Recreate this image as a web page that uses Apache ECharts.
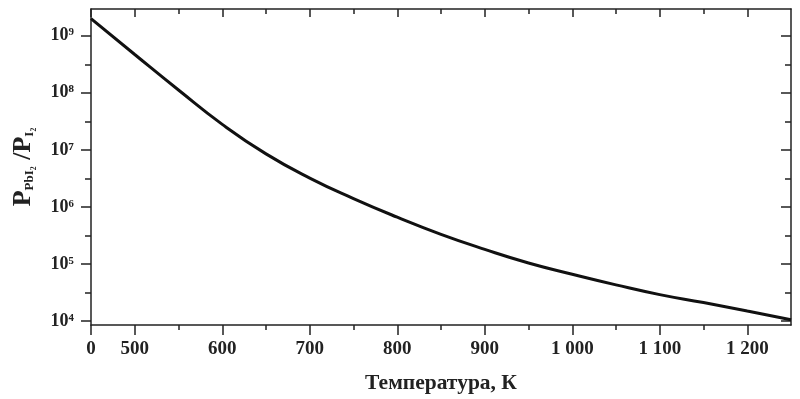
<!DOCTYPE html>
<html>
<head>
<meta charset="utf-8">
<script src="https://cdn.jsdelivr.net/npm/echarts@6/dist/echarts.min.js"></script>
<style>
  html, body { margin: 0; padding: 0; background: #fff; }
  #main { width: 800px; height: 399px; }
</style>
</head>
<body>
<div id="main"></div>
<script>
// температура, K
var temps = [450, 500, 550, 600, 650, 700, 750, 800, 850, 900, 950, 1000, 1050, 1100, 1150, 1200, 1250];
// P(PbI2)/P(I2)
var ratio = [2.0e9, 4.7e8, 1.12e8, 2.8e7, 8.5e6, 3.2e6, 1.4e6, 6.6e5, 3.3e5, 1.8e5, 1.04e5, 6.6e4, 4.3e4, 2.9e4, 2.1e4, 1.5e4, 1.05e4];

// подписи оси X (450 подписан как "0" — разрыв оси)
var xMajor = [450, 500, 600, 700, 800, 900, 1000, 1100, 1200];
var xMinor = [550, 650, 750, 850, 950, 1050, 1150];
var yMajor = [1e4, 1e5, 1e6, 1e7, 1e8, 1e9];
var yMinor = [3.1623e4, 3.1623e5, 3.1623e6, 3.1623e7, 3.1623e8];

var sup = { '4': '⁴', '5': '⁵', '6': '⁶', '7': '⁷', '8': '⁸', '9': '⁹' };
var font = 'Liberation Serif';
var ink = '#222';

function xLabel(v) {
  if (v === 450) return '0';
  if (v >= 1000) return Math.floor(v / 1000) + ' ' + String(v % 1000).padStart(3, '0');
  return String(v);
}

function xAx(pos, ticks, len, inside, extra) {
  return Object.assign({
    type: 'value', position: pos, min: 450, max: 1250,
    axisLine: { show: false, onZero: false },
    axisTick: { show: true, customValues: ticks, length: len, inside: inside, lineStyle: { color: ink, width: 1.5 } },
    axisLabel: { show: false },
    splitLine: { show: false }
  }, extra || {});
}

function yAx(pos, ticks, len, inside, extra) {
  return Object.assign({
    type: 'log', logBase: 10, position: pos, min: 8500, max: 2.95e9,
    axisLine: { show: false, onZero: false },
    axisTick: { show: true, customValues: ticks, length: len, inside: inside, lineStyle: { color: ink, width: 1.5 } },
    axisLabel: { show: false },
    splitLine: { show: false }
  }, extra || {});
}

var chart = echarts.init(document.getElementById('main'));
chart.setOption({
  animation: false,
  backgroundColor: '#fff',
  grid: { left: 91, right: 9, top: 9, bottom: 73, containLabel: false },
  xAxis: [
    xAx('bottom', xMajor, 10, false, {
      axisLine: { show: true, onZero: false, lineStyle: { color: ink, width: 1.5 } },
      axisLabel: {
        show: true, customValues: xMajor, margin: 15, formatter: xLabel,
        color: ink, fontFamily: font, fontWeight: 'bold', fontSize: 19
      },
      name: 'Температура, К', nameLocation: 'middle', nameGap: 47,
      nameTextStyle: { color: ink, fontFamily: font, fontWeight: 'bold', fontSize: 21.5 }
    }),
    xAx('bottom', xMinor, 5, false),
    xAx('top', xMajor, 8, true, {
      axisLine: { show: true, onZero: false, lineStyle: { color: ink, width: 1.5 } }
    }),
    xAx('top', xMinor, 5, true)
  ],
  yAxis: [
    yAx('left', yMajor, 10, false, {
      axisLine: { show: true, onZero: false, lineStyle: { color: ink, width: 1.5 } },
      axisLabel: {
        show: true, customValues: yMajor, margin: 17,
        formatter: function (v) { return '10' + sup[String(Math.round(Math.log10(v)))]; },
        color: ink, fontFamily: font, fontWeight: 'bold', fontSize: 18
      },
      name: '{p|P}{s|PbI₂}{p| /P}{s|I₂}', nameLocation: 'middle', nameGap: 55, nameRotate: 90,
      nameTextStyle: {
        color: ink, fontFamily: font, fontWeight: 'bold',
        rich: {
          p: { fontSize: 26, fontFamily: font, fontWeight: 'bold', color: ink, verticalAlign: 'bottom', lineHeight: 28 },
          s: { fontSize: 13, fontFamily: font, fontWeight: 'bold', color: ink, verticalAlign: 'bottom', lineHeight: 22 }
        }
      }
    }),
    yAx('left', yMinor, 6, false),
    yAx('right', yMajor, 10, true, {
      axisLine: { show: true, onZero: false, lineStyle: { color: ink, width: 1.5 } }
    }),
    yAx('right', yMinor, 6, true)
  ],
  series: [{
    type: 'line',
    xAxisIndex: 0,
    yAxisIndex: 0,
    data: temps.map(function (t, i) { return [t, ratio[i]]; }),
    smooth: 0.5,
    showSymbol: false,
    lineStyle: { color: '#111', width: 3 }
  }]
});
</script>
</body>
</html>
